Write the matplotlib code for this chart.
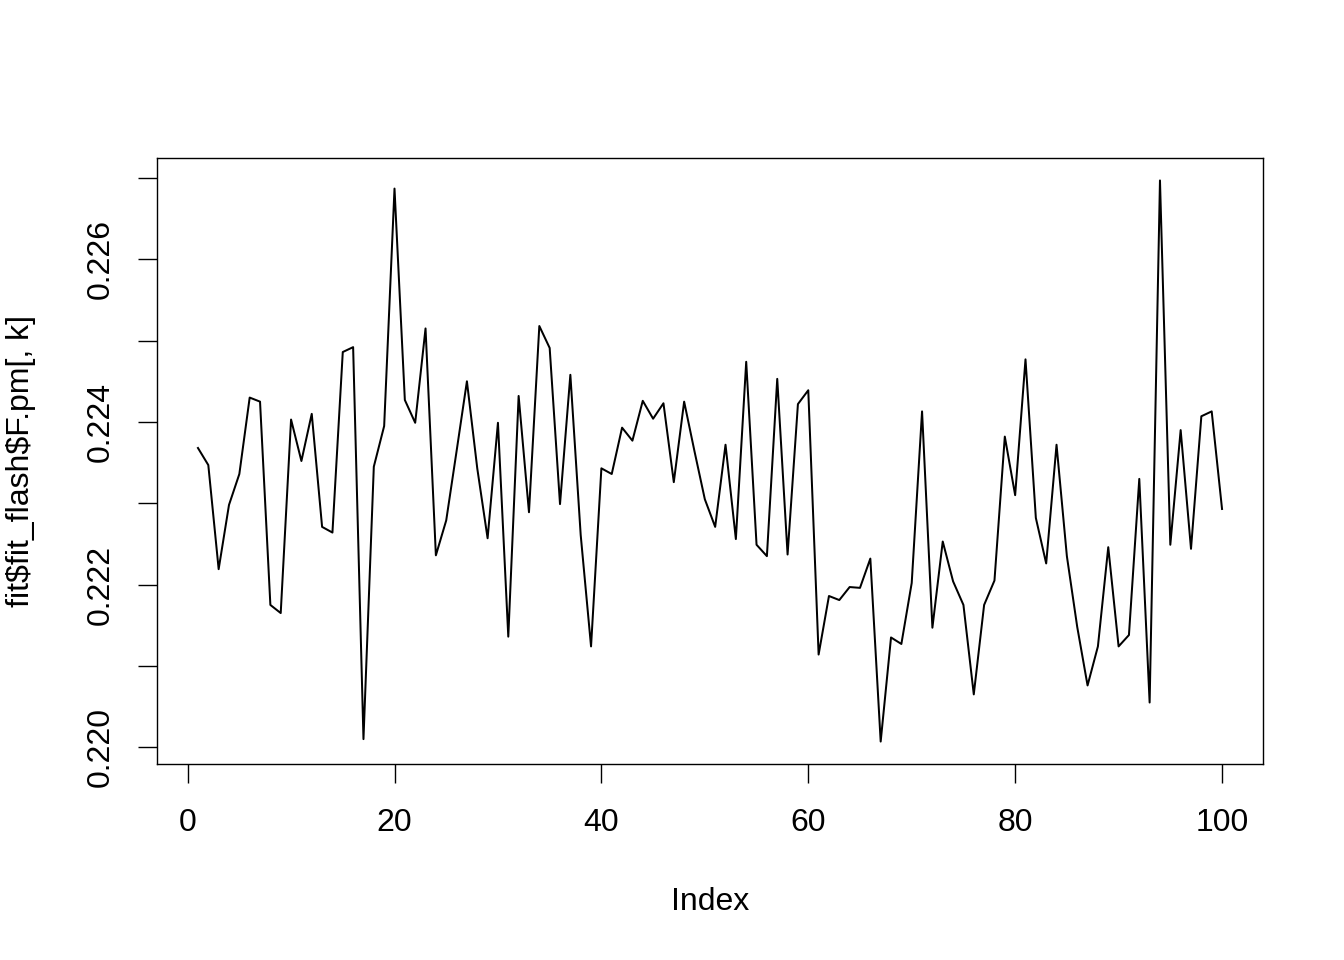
import numpy as np
import matplotlib
matplotlib.use("Agg")
import matplotlib.pyplot as plt

plt.rcParams['font.family'] = ['Liberation Sans', 'DejaVu Sans']

# values (index 1..100)
index = list(range(1, 101))
fpm = [0.22368, 0.22347, 0.22219, 0.22298, 0.22336, 0.22430, 0.22425, 0.22175, 0.22165, 0.22403,
       0.22352, 0.22410, 0.22271, 0.22264, 0.22486, 0.22492, 0.22010, 0.22345, 0.22395, 0.22687,
       0.22427, 0.22399, 0.22515, 0.22236, 0.22279, 0.22364, 0.22450, 0.22343, 0.22257, 0.22399,
       0.22136, 0.22432, 0.22289, 0.22518, 0.22491, 0.22299, 0.22458, 0.22261, 0.22124, 0.22343,
       0.22336, 0.22393, 0.22377, 0.22426, 0.22404, 0.22423, 0.22326, 0.22425, 0.22364, 0.22305,
       0.22271, 0.22372, 0.22256, 0.22474, 0.22249, 0.22235, 0.22453, 0.22237, 0.22422, 0.22439,
       0.22114, 0.22186, 0.22181, 0.22197, 0.22196, 0.22232, 0.22007, 0.22135, 0.22127, 0.22202,
       0.22413, 0.22147, 0.22253, 0.22204, 0.22175, 0.22065, 0.22175, 0.22205, 0.22382, 0.22310,
       0.22477, 0.22282, 0.22226, 0.22372, 0.22235, 0.22148, 0.22076, 0.22124, 0.22246, 0.22124,
       0.22138, 0.22330, 0.22055, 0.22697, 0.22249, 0.22390, 0.22244, 0.22407, 0.22413, 0.22293]

xticks = [0, 20, 40, 60, 80, 100]
yticks = [0.220, 0.221, 0.222, 0.223, 0.224, 0.225, 0.226, 0.227]
ylabs = ["0.220", "", "0.222", "", "0.224", "", "0.226", ""]

fig = plt.figure(figsize=(13.44, 9.6), dpi=100)
ax = fig.add_axes([157/1344, 1-764/960, 1106/1344, 606/960])

ax.plot(index, fpm, color='black', lw=1.44)

# R style 4% padding
def rpad(v):
    lo, hi = min(v), max(v)
    d = (hi - lo) * 0.04
    return lo - d, hi + d

ax.set_xlim(*rpad(index))
ax.set_ylim(*rpad(fpm))

ax.set_xticks(xticks)
ax.set_xticklabels([str(t) for t in xticks])
ax.set_yticks(yticks)
ax.set_yticklabels(ylabs, rotation=90, va='center')

ax.tick_params(axis='both', direction='out', length=13.8, width=1.0, labelsize=23)
ax.tick_params(axis='x', pad=18)
ax.tick_params(axis='y', pad=16)
for s in ax.spines.values():
    s.set_linewidth(1.0)

ax.set_xlabel("Index", fontsize=23)
ax.xaxis.set_label_coords(0.5, -0.203)
ax.set_ylabel(r"fit\$fit_flash\$F.pm[, k]", fontsize=23, va='center')
ax.yaxis.set_label_coords(-0.123, 0.5)

fig.savefig("out.png", dpi=100)
